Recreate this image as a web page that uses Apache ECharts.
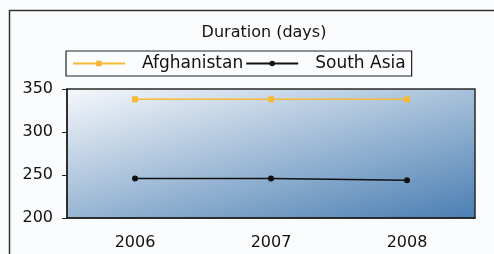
<!DOCTYPE html>
<html>
<head>
<meta charset="utf-8">
<script src="https://cdn.jsdelivr.net/npm/echarts@6/dist/echarts.min.js"></script>
<style>
  html, body { margin: 0; padding: 0; background: #fbfcfe; }
  #chart { width: 494px; height: 254px; }
</style>
</head>
<body>
<div id="chart"></div>
<script>
const years = ["2006", "2007", "2008"];
const afghanistan = [338, 338, 338];
const southAsia = [246, 246, 244];
const yTicks = { min: 200, max: 350, interval: 50 };

const chart = echarts.init(document.getElementById("chart"));
const font = "DejaVu Sans";

chart.setOption({
  backgroundColor: "#fbfcfe",
  animation: false,
  title: {
    text: "Duration (days)",
    left: 259,
    top: 20,
    textAlign: "center",
    textStyle: { fontFamily: font, fontSize: 16, fontWeight: "normal", color: "#111" }
  },
  legend: {
    top: 51,
    left: 66,
    orient: "horizontal",
    padding: [4, 6, 4, 6],
    itemWidth: 52,
    itemHeight: 7,
    itemGap: 2,
    borderColor: "#222",
    borderWidth: 1.2,
    textStyle: { fontFamily: font, fontSize: 17, color: "#111", padding: [0, 8, 0, 12] },
    data: ["Afghanistan", "South Asia"]
  },
  graphic: [
    {
      type: "rect",
      shape: { x: 9.5, y: 10.5, width: 520, height: 260 },
      style: { fill: "none", stroke: "#333", lineWidth: 1.5 },
      silent: true
    }
  ],
  grid: {
    left: 67,
    top: 89,
    right: 19,
    bottom: 36,
    show: true,
    borderColor: "#2a2a2a",
    borderWidth: 1.5,
    backgroundColor: {
      type: "linear",
      x: 0, y: 0, x2: 0.142, y2: 1.7,
      colorStops: [
        { offset: 0, color: "#f6f8fb" },
        { offset: 1, color: "#4b7fb3" }
      ]
    }
  },
  xAxis: {
    type: "category",
    data: years,
    boundaryGap: true,
    axisLine: { lineStyle: { color: "#222", width: 1.5 } },
    axisTick: { alignWithLabel: true, length: 6, lineStyle: { color: "#222" } },
    axisLabel: { fontFamily: font, fontSize: 16, color: "#111", margin: 17 }
  },
  yAxis: {
    type: "value",
    min: yTicks.min,
    max: yTicks.max,
    interval: yTicks.interval,
    splitLine: { show: false },
    axisLine: { show: true, lineStyle: { color: "#222", width: 1.5 } },
    axisTick: { show: true, length: 5, lineStyle: { color: "#222" } },
    axisLabel: { fontFamily: font, fontSize: 16, color: "#111", margin: 14 }
  },
  series: [
    {
      name: "Afghanistan",
      type: "line",
      data: afghanistan,
      color: "#f5b935",
      symbol: "rect",
      symbolSize: 6,
      lineStyle: { width: 1.5, color: "#f5b935" },
      itemStyle: { color: "#f5b935" }
    },
    {
      name: "South Asia",
      type: "line",
      data: southAsia,
      color: "#111",
      symbol: "circle",
      symbolSize: 6,
      lineStyle: { width: 1.5, color: "#111" },
      itemStyle: { color: "#111" }
    }
  ]
});
</script>
</body>
</html>
